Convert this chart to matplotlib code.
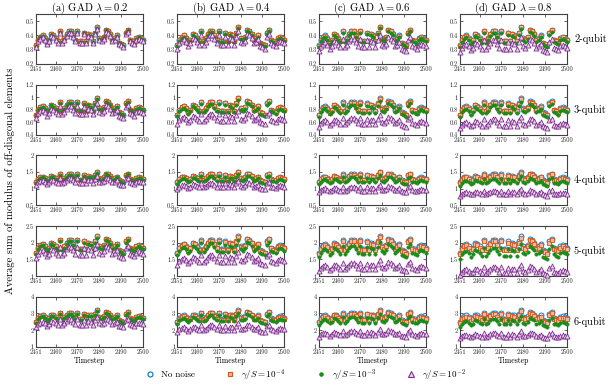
import matplotlib
matplotlib.use("Agg")
import matplotlib.pyplot as plt
from matplotlib.lines import Line2D

plt.rcParams['font.family'] = 'cmr10'
plt.rcParams['mathtext.fontset'] = 'cm'
plt.rcParams['axes.unicode_minus'] = False
plt.rcParams['axes.formatter.use_mathtext'] = True

# ---------------- data ----------------
timesteps = list(range(2451, 2501))
xtick_vals = [2451, 2460, 2470, 2480, 2490, 2500]
xtick_labels = ['2451', '2460', '2470', '2480', '2490', '2500']

col_titles = [r'(a) GAD $\lambda = 0.2$', r'(b) GAD $\lambda = 0.4$',
              r'(c) GAD $\lambda = 0.6$', r'(d) GAD $\lambda = 0.8$']
row_labels = ['2-qubit', '3-qubit', '4-qubit', '5-qubit', '6-qubit']
series_labels = ['No noise', r'$\gamma/S = 10^{-4}$', r'$\gamma/S = 10^{-3}$', r'$\gamma/S = 10^{-2}$']

yticks_2q = [0.2, 0.3, 0.4, 0.5]
yticks_3q = [0.4, 0.6, 0.8, 1.0, 1.2]
yticks_4q = [0.5, 1.0, 1.5, 2.0]
yticks_5q = [1.0, 1.5, 2.0, 2.5]
yticks_6q = [1, 2, 3, 4]
ylabels_2q = ['0.2', '0.3', '0.4', '0.5']
ylabels_3q = ['0.4', '0.6', '0.8', '1', '1.2']
ylabels_4q = ['0.5', '1', '1.5', '2']
ylabels_5q = ['1', '1.5', '2', '2.5']
ylabels_6q = ['1', '2', '3', '4']
ylims_2q = (0.2, 0.55)
ylims_3q = (0.4, 1.2)
ylims_4q = (0.5, 2.0)
ylims_5q = (1.0, 2.5)
ylims_6q = (1.0, 4.0)

# ---- 2-qubit ----
nn_2q = [.33,.37,.39,.40,.38,.35,.37,.41,.40,.38,
         .36,.43,.36,.38,.41,.43,.43,.40,.37,.43,
         .36,.36,.42,.36,.41,.40,.36,.42,.46,.38,
         .37,.39,.44,.43,.41,.37,.38,.40,.35,.34,
         .33,.42,.44,.37,.36,.35,.38,.39,.38,.37]
g4_2q_a = list(nn_2q)
g3_2q_a = [.327,.366,.386,.396,.376,.347,.366,.406,.396,.376,
           .356,.426,.356,.376,.406,.426,.426,.396,.366,.426,
           .356,.356,.416,.356,.406,.396,.356,.416,.455,.376,
           .366,.386,.436,.426,.406,.366,.376,.396,.347,.337,
           .327,.416,.436,.366,.356,.347,.376,.386,.376,.366]
g2_2q_a = [.320,.359,.378,.388,.369,.340,.359,.398,.388,.369,
           .349,.417,.349,.369,.398,.417,.417,.388,.359,.417,
           .349,.349,.407,.349,.398,.388,.349,.407,.446,.369,
           .359,.378,.427,.417,.398,.359,.369,.388,.340,.330,
           .320,.407,.427,.359,.349,.340,.369,.378,.369,.359]
g4_2q_b = list(nn_2q)
g3_2q_b = [.323,.363,.382,.392,.372,.343,.363,.402,.392,.372,
           .353,.421,.353,.372,.402,.421,.421,.392,.363,.421,
           .353,.353,.412,.353,.402,.392,.353,.412,.451,.372,
           .363,.382,.431,.421,.402,.363,.372,.392,.343,.333,
           .323,.412,.431,.363,.353,.343,.372,.382,.372,.363]
g2_2q_b = [.307,.344,.363,.372,.353,.326,.344,.381,.372,.353,
           .335,.400,.335,.353,.381,.400,.400,.372,.344,.400,
           .335,.335,.391,.335,.381,.372,.335,.391,.428,.353,
           .344,.363,.409,.400,.381,.344,.353,.372,.326,.316,
           .307,.391,.409,.344,.335,.326,.353,.363,.353,.344]
g4_2q_c = [.328,.368,.388,.398,.378,.348,.368,.408,.398,.378,
           .358,.428,.358,.378,.408,.428,.428,.398,.368,.428,
           .358,.358,.418,.358,.408,.398,.358,.418,.458,.378,
           .368,.388,.438,.428,.408,.368,.378,.398,.348,.338,
           .328,.418,.438,.368,.358,.348,.378,.388,.378,.368]
g3_2q_c = [.322,.361,.380,.390,.371,.341,.361,.400,.390,.371,
           .351,.419,.351,.371,.400,.419,.419,.390,.361,.419,
           .351,.351,.410,.351,.400,.390,.351,.410,.449,.371,
           .361,.380,.429,.419,.400,.361,.371,.390,.341,.332,
           .322,.410,.429,.361,.351,.341,.371,.380,.371,.361]
g2_2q_c = [.290,.326,.343,.352,.334,.308,.326,.361,.352,.334,
           .317,.378,.317,.334,.361,.378,.378,.352,.326,.378,
           .317,.317,.370,.317,.361,.352,.317,.370,.405,.334,
           .326,.343,.387,.378,.361,.326,.334,.352,.308,.299,
           .290,.370,.387,.326,.317,.308,.334,.343,.334,.326]
g4_2q_d = list(g4_2q_c)
g3_2q_d = [.318,.357,.376,.386,.367,.338,.357,.396,.386,.367,
           .347,.415,.347,.367,.396,.415,.415,.386,.357,.415,
           .347,.347,.405,.347,.396,.386,.347,.405,.444,.367,
           .357,.376,.425,.415,.396,.357,.367,.386,.338,.328,
           .318,.405,.425,.357,.347,.338,.367,.376,.367,.357]
g2_2q_d = [.281,.315,.332,.340,.323,.298,.315,.349,.340,.323,
           .306,.366,.306,.323,.349,.366,.366,.340,.315,.366,
           .306,.306,.357,.306,.349,.340,.306,.357,.391,.323,
           .315,.332,.374,.366,.349,.315,.323,.340,.298,.289,
           .281,.357,.374,.315,.306,.298,.323,.332,.323,.315]

# ---- 3-qubit ----
nn_3q = [.72,.80,.84,.86,.82,.76,.80,.88,.86,.82,
         .78,.92,.78,.82,.88,.92,.92,.86,.80,.92,
         .78,.78,.90,.78,.88,.86,.78,.90,.98,.82,
         .80,.84,.94,.92,.88,.80,.82,.86,.76,.74,
         .72,.90,.94,.80,.78,.76,.82,.84,.82,.80]
g4_3q_a = list(nn_3q)
g3_3q_a = [.713,.792,.832,.851,.812,.752,.792,.871,.851,.812,
           .772,.911,.772,.812,.871,.911,.911,.851,.792,.911,
           .772,.772,.891,.772,.871,.851,.772,.891,.970,.812,
           .792,.832,.931,.911,.871,.792,.812,.851,.752,.733,
           .713,.891,.931,.792,.772,.752,.812,.832,.812,.792]
g2_3q_a = [.670,.744,.781,.800,.763,.707,.744,.818,.800,.763,
           .725,.856,.725,.763,.818,.856,.856,.800,.744,.856,
           .725,.725,.837,.725,.818,.800,.725,.837,.911,.763,
           .744,.781,.874,.856,.818,.744,.763,.800,.707,.688,
           .670,.837,.874,.744,.725,.707,.763,.781,.763,.744]
g4_3q_b = list(nn_3q)
g3_3q_b = [.698,.776,.815,.834,.795,.737,.776,.854,.834,.795,
           .757,.892,.757,.795,.854,.892,.892,.834,.776,.892,
           .757,.757,.873,.757,.854,.834,.757,.873,.951,.795,
           .776,.815,.912,.892,.854,.776,.795,.834,.737,.718,
           .698,.873,.912,.776,.757,.737,.795,.815,.795,.776]
g2_3q_b = [.576,.640,.672,.688,.656,.608,.640,.704,.688,.656,
           .624,.736,.624,.656,.704,.736,.736,.688,.640,.736,
           .624,.624,.720,.624,.704,.688,.624,.720,.784,.656,
           .640,.672,.752,.736,.704,.640,.656,.688,.608,.592,
           .576,.720,.752,.640,.624,.608,.656,.672,.656,.640]
g4_3q_c = list(g3_3q_a)
g3_3q_c = [.691,.768,.806,.826,.787,.730,.768,.845,.826,.787,
           .749,.883,.749,.787,.845,.883,.883,.826,.768,.883,
           .749,.749,.864,.749,.845,.826,.749,.864,.941,.787,
           .768,.806,.902,.883,.845,.768,.787,.826,.730,.710,
           .691,.864,.902,.768,.749,.730,.787,.806,.787,.768]
g2_3q_c = [.526,.584,.613,.628,.599,.555,.584,.642,.628,.599,
           .569,.672,.569,.599,.642,.672,.672,.628,.584,.672,
           .569,.569,.657,.569,.642,.628,.569,.657,.715,.599,
           .584,.613,.686,.672,.642,.584,.599,.628,.555,.540,
           .526,.657,.686,.584,.569,.555,.599,.613,.599,.584]
g4_3q_d = list(g3_3q_a)
g3_3q_d = [.684,.760,.798,.817,.779,.722,.760,.836,.817,.779,
           .741,.874,.741,.779,.836,.874,.874,.817,.760,.874,
           .741,.741,.855,.741,.836,.817,.741,.855,.931,.779,
           .760,.798,.893,.874,.836,.760,.779,.817,.722,.703,
           .684,.855,.893,.760,.741,.722,.779,.798,.779,.760]
g2_3q_d = [.504,.560,.588,.602,.574,.532,.560,.616,.602,.574,
           .546,.644,.546,.574,.616,.644,.644,.602,.560,.644,
           .546,.546,.630,.546,.616,.602,.546,.630,.686,.574,
           .560,.588,.658,.644,.616,.560,.574,.602,.532,.518,
           .504,.630,.658,.560,.546,.532,.574,.588,.574,.560]

# ---- 4-qubit ----
nn_4q = [1.20,1.29,1.34,1.36,1.31,1.25,1.29,1.38,1.36,1.31,
         1.27,1.43,1.27,1.31,1.38,1.43,1.43,1.36,1.29,1.43,
         1.27,1.27,1.41,1.27,1.38,1.36,1.27,1.41,1.50,1.31,
         1.29,1.34,1.45,1.43,1.38,1.29,1.31,1.36,1.25,1.22,
         1.20,1.41,1.45,1.29,1.27,1.25,1.31,1.34,1.31,1.29]
g4_4q_a = list(nn_4q)
g3_4q_a = [1.18,1.27,1.32,1.34,1.29,1.23,1.27,1.36,1.34,1.29,
           1.25,1.41,1.25,1.29,1.36,1.41,1.41,1.34,1.27,1.41,
           1.25,1.25,1.39,1.25,1.36,1.34,1.25,1.39,1.48,1.29,
           1.27,1.32,1.43,1.41,1.36,1.27,1.29,1.34,1.23,1.20,
           1.18,1.39,1.43,1.27,1.25,1.23,1.29,1.32,1.29,1.27]
g2_4q_a = [1.10,1.19,1.23,1.25,1.21,1.15,1.19,1.27,1.25,1.21,
           1.17,1.32,1.17,1.21,1.27,1.32,1.32,1.25,1.19,1.32,
           1.17,1.17,1.30,1.17,1.27,1.25,1.17,1.30,1.38,1.21,
           1.19,1.23,1.33,1.32,1.27,1.19,1.21,1.25,1.15,1.12,
           1.10,1.30,1.33,1.19,1.17,1.15,1.21,1.23,1.21,1.19]
g4_4q_b = list(nn_4q)
g3_4q_b = [1.15,1.24,1.29,1.31,1.26,1.20,1.24,1.32,1.31,1.26,
           1.22,1.37,1.22,1.26,1.32,1.37,1.37,1.31,1.24,1.37,
           1.22,1.22,1.35,1.22,1.32,1.31,1.22,1.35,1.44,1.26,
           1.24,1.29,1.39,1.37,1.32,1.24,1.26,1.31,1.20,1.17,
           1.15,1.35,1.39,1.24,1.22,1.20,1.26,1.29,1.26,1.24]
g2_4q_b = [0.98,1.06,1.10,1.12,1.07,1.03,1.06,1.13,1.12,1.07,
           1.04,1.17,1.04,1.07,1.13,1.17,1.17,1.12,1.06,1.17,
           1.04,1.04,1.16,1.04,1.13,1.12,1.04,1.16,1.23,1.07,
           1.06,1.10,1.19,1.17,1.13,1.06,1.07,1.12,1.03,1.00,
           0.98,1.16,1.19,1.06,1.04,1.03,1.07,1.10,1.07,1.06]
g4_4q_c = [1.19,1.28,1.33,1.35,1.30,1.24,1.28,1.37,1.35,1.30,
           1.26,1.42,1.26,1.30,1.37,1.42,1.42,1.35,1.28,1.42,
           1.26,1.26,1.40,1.26,1.37,1.35,1.26,1.40,1.49,1.30,
           1.28,1.33,1.44,1.42,1.37,1.28,1.30,1.35,1.24,1.21,
           1.19,1.40,1.44,1.28,1.26,1.24,1.30,1.33,1.30,1.28]
g3_4q_c = [1.13,1.21,1.26,1.28,1.23,1.18,1.21,1.30,1.28,1.23,
           1.19,1.34,1.19,1.23,1.30,1.34,1.34,1.28,1.21,1.34,
           1.19,1.19,1.33,1.19,1.30,1.28,1.19,1.33,1.41,1.23,
           1.21,1.26,1.36,1.34,1.30,1.21,1.23,1.28,1.18,1.15,
           1.13,1.33,1.36,1.21,1.19,1.18,1.23,1.26,1.23,1.21]
g2_4q_c = [0.89,0.95,0.99,1.01,0.97,0.93,0.95,1.02,1.01,0.97,
           0.94,1.06,0.94,0.97,1.02,1.06,1.06,1.01,0.95,1.06,
           0.94,0.94,1.04,0.94,1.02,1.01,0.94,1.04,1.11,0.97,
           0.95,0.99,1.07,1.06,1.02,0.95,0.97,1.01,0.93,0.90,
           0.89,1.04,1.07,0.95,0.94,0.93,0.97,0.99,0.97,0.95]
g4_4q_d = list(g3_4q_a)
g3_4q_d = [1.09,1.17,1.22,1.24,1.19,1.14,1.17,1.26,1.24,1.19,
           1.16,1.30,1.16,1.19,1.26,1.30,1.30,1.24,1.17,1.30,
           1.16,1.16,1.28,1.16,1.26,1.24,1.16,1.28,1.37,1.19,
           1.17,1.22,1.32,1.30,1.26,1.17,1.19,1.24,1.14,1.11,
           1.09,1.28,1.32,1.17,1.16,1.14,1.19,1.22,1.19,1.17]
g2_4q_d = [0.79,0.85,0.88,0.90,0.86,0.83,0.85,0.91,0.90,0.86,
           0.84,0.94,0.84,0.86,0.91,0.94,0.94,0.90,0.85,0.94,
           0.84,0.84,0.93,0.84,0.91,0.90,0.84,0.93,0.99,0.86,
           0.85,0.88,0.96,0.94,0.91,0.85,0.86,0.90,0.83,0.81,
           0.79,0.93,0.96,0.85,0.84,0.83,0.86,0.88,0.86,0.85]

# ---- 5-qubit ----
nn_5q = [1.70,1.85,1.93,1.97,1.89,1.78,1.85,2.00,1.97,1.89,
         1.81,2.08,1.81,1.89,2.00,2.08,2.08,1.97,1.85,2.08,
         1.81,1.81,2.04,1.81,2.00,1.97,1.81,2.04,2.19,1.89,
         1.85,1.93,2.12,2.08,2.00,1.85,1.89,1.97,1.78,1.74,
         1.70,2.04,2.12,1.85,1.81,1.78,1.89,1.93,1.89,1.85]
g4_5q_a = list(nn_5q)
g3_5q_a = [1.67,1.81,1.89,1.93,1.85,1.74,1.81,1.96,1.93,1.85,
           1.77,2.04,1.77,1.85,1.96,2.04,2.04,1.93,1.81,2.04,
           1.77,1.77,2.00,1.77,1.96,1.93,1.77,2.00,2.15,1.85,
           1.81,1.89,2.08,2.04,1.96,1.81,1.85,1.93,1.74,1.71,
           1.67,2.00,2.08,1.81,1.77,1.74,1.85,1.89,1.85,1.81]
g2_5q_a = [1.53,1.67,1.74,1.77,1.70,1.60,1.67,1.80,1.77,1.70,
           1.63,1.87,1.63,1.70,1.80,1.87,1.87,1.77,1.67,1.87,
           1.63,1.63,1.84,1.63,1.80,1.77,1.63,1.84,1.97,1.70,
           1.67,1.74,1.91,1.87,1.80,1.67,1.70,1.77,1.60,1.57,
           1.53,1.84,1.91,1.67,1.63,1.60,1.70,1.74,1.70,1.67]
g4_5q_b = [1.68,1.83,1.91,1.95,1.87,1.76,1.83,1.98,1.95,1.87,
           1.79,2.06,1.79,1.87,1.98,2.06,2.06,1.95,1.83,2.06,
           1.79,1.79,2.02,1.79,1.98,1.95,1.79,2.02,2.17,1.87,
           1.83,1.91,2.10,2.06,1.98,1.83,1.87,1.95,1.76,1.72,
           1.68,2.02,2.10,1.83,1.79,1.76,1.87,1.91,1.87,1.83]
g3_5q_b = [1.62,1.76,1.83,1.87,1.80,1.69,1.76,1.90,1.87,1.80,
           1.72,1.98,1.72,1.80,1.90,1.98,1.98,1.87,1.76,1.98,
           1.72,1.72,1.94,1.72,1.90,1.87,1.72,1.94,2.08,1.80,
           1.76,1.83,2.01,1.98,1.90,1.76,1.80,1.87,1.69,1.65,
           1.62,1.94,2.01,1.76,1.72,1.69,1.80,1.83,1.80,1.76]
g2_5q_b = [1.33,1.44,1.51,1.54,1.47,1.39,1.44,1.56,1.54,1.47,
           1.41,1.62,1.41,1.47,1.56,1.62,1.62,1.54,1.44,1.62,
           1.41,1.41,1.59,1.41,1.56,1.54,1.41,1.59,1.71,1.47,
           1.44,1.51,1.65,1.62,1.56,1.44,1.47,1.54,1.39,1.36,
           1.33,1.59,1.65,1.44,1.41,1.39,1.47,1.51,1.47,1.44]
g4_5q_c = [1.67,1.82,1.90,1.94,1.86,1.75,1.82,1.97,1.94,1.86,
           1.78,2.05,1.78,1.86,1.97,2.05,2.05,1.94,1.82,2.05,
           1.78,1.78,2.01,1.78,1.97,1.94,1.78,2.01,2.16,1.86,
           1.82,1.90,2.09,2.05,1.97,1.82,1.86,1.94,1.75,1.71,
           1.67,2.01,2.09,1.82,1.78,1.75,1.86,1.90,1.86,1.82]
g3_5q_c = [1.56,1.70,1.78,1.81,1.74,1.64,1.70,1.84,1.81,1.74,
           1.67,1.91,1.67,1.74,1.84,1.91,1.91,1.81,1.70,1.91,
           1.67,1.67,1.88,1.67,1.84,1.81,1.67,1.88,2.01,1.74,
           1.70,1.78,1.95,1.91,1.84,1.70,1.74,1.81,1.64,1.60,
           1.56,1.88,1.95,1.70,1.67,1.64,1.74,1.78,1.74,1.70]
g2_5q_c = [1.14,1.24,1.29,1.32,1.27,1.19,1.24,1.34,1.32,1.27,
           1.21,1.39,1.21,1.27,1.34,1.39,1.39,1.32,1.24,1.39,
           1.21,1.21,1.37,1.21,1.34,1.32,1.21,1.37,1.47,1.27,
           1.24,1.29,1.42,1.39,1.34,1.24,1.27,1.32,1.19,1.17,
           1.14,1.37,1.42,1.24,1.21,1.19,1.27,1.29,1.27,1.24]
g4_5q_d = list(g3_5q_a)
g3_5q_d = [1.51,1.65,1.72,1.75,1.68,1.58,1.65,1.78,1.75,1.68,
           1.61,1.85,1.61,1.68,1.78,1.85,1.85,1.75,1.65,1.85,
           1.61,1.61,1.82,1.61,1.78,1.75,1.61,1.82,1.95,1.68,
           1.65,1.72,1.89,1.85,1.78,1.65,1.68,1.75,1.58,1.55,
           1.51,1.82,1.89,1.65,1.61,1.58,1.68,1.72,1.68,1.65]
g2_5q_d = [1.04,1.13,1.18,1.20,1.15,1.09,1.13,1.22,1.20,1.15,
           1.10,1.27,1.10,1.15,1.22,1.27,1.27,1.20,1.13,1.27,
           1.10,1.10,1.24,1.10,1.22,1.20,1.10,1.24,1.34,1.15,
           1.13,1.18,1.29,1.27,1.22,1.13,1.15,1.20,1.09,1.06,
           1.04,1.24,1.29,1.13,1.10,1.09,1.15,1.18,1.15,1.13]

# ---- 6-qubit ----
nn_6q = [2.50,2.72,2.82,2.88,2.77,2.61,2.72,2.93,2.88,2.77,
         2.66,3.04,2.66,2.77,2.93,3.04,3.04,2.88,2.72,3.04,
         2.66,2.66,2.99,2.66,2.93,2.88,2.66,2.99,3.20,2.77,
         2.72,2.82,3.09,3.04,2.93,2.72,2.77,2.88,2.61,2.55,
         2.50,2.99,3.09,2.72,2.66,2.61,2.77,2.82,2.77,2.72]
g4_6q_a = list(nn_6q)
g3_6q_a = [2.45,2.67,2.76,2.82,2.71,2.56,2.67,2.87,2.82,2.71,
           2.61,2.98,2.61,2.71,2.87,2.98,2.98,2.82,2.67,2.98,
           2.61,2.61,2.93,2.61,2.87,2.82,2.61,2.93,3.14,2.71,
           2.67,2.76,3.03,2.98,2.87,2.67,2.71,2.82,2.56,2.50,
           2.45,2.93,3.03,2.67,2.61,2.56,2.71,2.76,2.71,2.67]
g2_6q_a = [2.18,2.37,2.45,2.51,2.41,2.27,2.37,2.55,2.51,2.41,
           2.31,2.64,2.31,2.41,2.55,2.64,2.64,2.51,2.37,2.64,
           2.31,2.31,2.60,2.31,2.55,2.51,2.31,2.60,2.78,2.41,
           2.37,2.45,2.69,2.64,2.55,2.37,2.41,2.51,2.27,2.22,
           2.18,2.60,2.69,2.37,2.31,2.27,2.41,2.45,2.41,2.37]
g4_6q_b = [2.48,2.69,2.79,2.85,2.74,2.58,2.69,2.90,2.85,2.74,
           2.63,3.01,2.63,2.74,2.90,3.01,3.01,2.85,2.69,3.01,
           2.63,2.63,2.96,2.63,2.90,2.85,2.63,2.96,3.17,2.74,
           2.69,2.79,3.06,3.01,2.90,2.69,2.74,2.85,2.58,2.52,
           2.48,2.96,3.06,2.69,2.63,2.58,2.74,2.79,2.74,2.69]
g3_6q_b = [2.38,2.58,2.68,2.74,2.63,2.48,2.58,2.78,2.74,2.63,
           2.53,2.89,2.53,2.63,2.78,2.89,2.89,2.74,2.58,2.89,
           2.53,2.53,2.84,2.53,2.78,2.74,2.53,2.84,3.04,2.63,
           2.58,2.68,2.94,2.89,2.78,2.58,2.63,2.74,2.48,2.42,
           2.38,2.84,2.94,2.58,2.53,2.48,2.63,2.68,2.63,2.58]
g2_6q_b = [1.88,2.04,2.12,2.16,2.08,1.96,2.04,2.20,2.16,2.08,
           2.00,2.28,2.00,2.08,2.20,2.28,2.28,2.16,2.04,2.28,
           2.00,2.00,2.24,2.00,2.20,2.16,2.00,2.24,2.40,2.08,
           2.04,2.12,2.32,2.28,2.20,2.04,2.08,2.16,1.96,1.91,
           1.88,2.24,2.32,2.04,2.00,1.96,2.08,2.12,2.08,2.04]
g4_6q_c = [2.46,2.68,2.78,2.84,2.73,2.57,2.68,2.89,2.84,2.73,
           2.62,2.99,2.62,2.73,2.89,2.99,2.99,2.84,2.68,2.99,
           2.62,2.62,2.95,2.62,2.89,2.84,2.62,2.95,3.15,2.73,
           2.68,2.78,3.04,2.99,2.89,2.68,2.73,2.84,2.57,2.51,
           2.46,2.95,3.04,2.68,2.62,2.57,2.73,2.78,2.73,2.68]
g3_6q_c = [2.30,2.50,2.59,2.65,2.55,2.40,2.50,2.70,2.65,2.55,
           2.45,2.80,2.45,2.55,2.70,2.80,2.80,2.65,2.50,2.80,
           2.45,2.45,2.75,2.45,2.70,2.65,2.45,2.75,2.94,2.55,
           2.50,2.59,2.84,2.80,2.70,2.50,2.55,2.65,2.40,2.35,
           2.30,2.75,2.84,2.50,2.45,2.40,2.55,2.59,2.55,2.50]
g2_6q_c = [1.60,1.74,1.80,1.84,1.77,1.67,1.74,1.88,1.84,1.77,
           1.70,1.95,1.70,1.77,1.88,1.95,1.95,1.84,1.74,1.95,
           1.70,1.70,1.91,1.70,1.88,1.84,1.70,1.91,2.05,1.77,
           1.74,1.80,1.98,1.95,1.88,1.74,1.77,1.84,1.67,1.63,
           1.60,1.91,1.98,1.74,1.70,1.67,1.77,1.80,1.77,1.74]
g4_6q_d = [2.44,2.65,2.75,2.81,2.70,2.54,2.65,2.86,2.81,2.70,
           2.59,2.96,2.59,2.70,2.86,2.96,2.96,2.81,2.65,2.96,
           2.59,2.59,2.92,2.59,2.86,2.81,2.59,2.92,3.12,2.70,
           2.65,2.75,3.01,2.96,2.86,2.65,2.70,2.81,2.54,2.49,
           2.44,2.92,3.01,2.65,2.59,2.54,2.70,2.75,2.70,2.65]
g3_6q_d = [2.20,2.39,2.48,2.53,2.44,2.30,2.39,2.58,2.53,2.44,
           2.34,2.68,2.34,2.44,2.58,2.68,2.68,2.53,2.39,2.68,
           2.34,2.34,2.63,2.34,2.58,2.53,2.34,2.63,2.82,2.44,
           2.39,2.48,2.72,2.68,2.58,2.39,2.44,2.53,2.30,2.24,
           2.20,2.63,2.72,2.39,2.34,2.30,2.44,2.48,2.44,2.39]
g2_6q_d = [1.50,1.63,1.69,1.73,1.66,1.57,1.63,1.76,1.73,1.66,
           1.60,1.82,1.60,1.66,1.76,1.82,1.82,1.73,1.63,1.82,
           1.60,1.60,1.79,1.60,1.76,1.73,1.60,1.79,1.92,1.66,
           1.63,1.69,1.85,1.82,1.76,1.63,1.66,1.73,1.57,1.53,
           1.50,1.79,1.85,1.63,1.60,1.57,1.66,1.69,1.66,1.63]

# ---------------- assemble ----------------
row_nn = [nn_2q, nn_3q, nn_4q, nn_5q, nn_6q]
row_noise = [
    [(g4_2q_a, g3_2q_a, g2_2q_a), (g4_2q_b, g3_2q_b, g2_2q_b), (g4_2q_c, g3_2q_c, g2_2q_c), (g4_2q_d, g3_2q_d, g2_2q_d)],
    [(g4_3q_a, g3_3q_a, g2_3q_a), (g4_3q_b, g3_3q_b, g2_3q_b), (g4_3q_c, g3_3q_c, g2_3q_c), (g4_3q_d, g3_3q_d, g2_3q_d)],
    [(g4_4q_a, g3_4q_a, g2_4q_a), (g4_4q_b, g3_4q_b, g2_4q_b), (g4_4q_c, g3_4q_c, g2_4q_c), (g4_4q_d, g3_4q_d, g2_4q_d)],
    [(g4_5q_a, g3_5q_a, g2_5q_a), (g4_5q_b, g3_5q_b, g2_5q_b), (g4_5q_c, g3_5q_c, g2_5q_c), (g4_5q_d, g3_5q_d, g2_5q_d)],
    [(g4_6q_a, g3_6q_a, g2_6q_a), (g4_6q_b, g3_6q_b, g2_6q_b), (g4_6q_c, g3_6q_c, g2_6q_c), (g4_6q_d, g3_6q_d, g2_6q_d)],
]
row_yticks = [yticks_2q, yticks_3q, yticks_4q, yticks_5q, yticks_6q]
row_ylabels = [ylabels_2q, ylabels_3q, ylabels_4q, ylabels_5q, ylabels_6q]
row_ylims = [ylims_2q, ylims_3q, ylims_4q, ylims_5q, ylims_6q]

# marker styles: (marker, size, face, edge, lw)
styles = [
    ('o', 13, '#cfe3f5', '#0072BD', 0.6),
    ('s', 6, '#f4b89a', '#D95319', 0.6),
    ('o', 6, '#1a8c1a', '#1a8c1a', 0.4),
    ('^', 13, '#ead4ef', '#7E2F8E', 0.6),
]

W, H = 614, 385
fig = plt.figure(figsize=(W / 100, H / 100), dpi=100)
left0, colstep, axw = 36, 141.3, 107
top0, rowstep, axh = 14, 70.7, 50

for r in range(5):
    for c in range(4):
        ax = fig.add_axes([(left0 + c * colstep) / W,
                           1 - (top0 + r * rowstep + axh) / H,
                           axw / W, axh / H])
        series = [row_nn[r]] + list(row_noise[r][c])
        for (m, s, fc, ec, lw), ys in zip(styles, series):
            ax.scatter(timesteps, ys, marker=m, s=s, facecolors=fc,
                       edgecolors=ec, linewidths=lw, clip_on=False, zorder=3)
        ax.set_xlim(2451, 2500)
        ax.set_ylim(*row_ylims[r])
        ax.set_xticks(xtick_vals)
        ax.set_xticklabels(xtick_labels)
        ax.set_yticks(row_yticks[r])
        ax.set_yticklabels(row_ylabels[r])
        ax.tick_params(direction='in', length=2, width=0.5, labelsize=4.6,
                       top=True, right=True, pad=1.5, colors='#262626')
        for sp in ax.spines.values():
            sp.set_linewidth(0.8)
            sp.set_color('#404040')
        if r == 0:
            ax.set_title(col_titles[c], fontsize=7.6, pad=2.5)
        if r == 4:
            ax.set_xlabel('Timestep', fontsize=5.6, labelpad=1.5)
    fig.text(574 / W, 1 - (top0 + r * rowstep + axh / 2) / H,
             row_labels[r], fontsize=7.5, va='center', ha='left')

fig.text(10 / W, 1 - (top0 + (4 * rowstep + axh) / 2) / H,
         'Average sum of modulus of off-diagonal elements',
         rotation=90, va='center', ha='center', fontsize=7.6)

handles = [Line2D([], [], linestyle='none', marker=m, markersize=(s ** 0.5),
                  markerfacecolor=('white' if i == 0 else fc), markeredgecolor=ec,
                  markeredgewidth=0.8)
           for i, (m, s, fc, ec, lw) in enumerate(styles)]
fig.legend(handles, series_labels, loc='center left',
           bbox_to_anchor=(145.5 / W, 1 - 375 / H),
           ncol=4, frameon=False, fontsize=6.5, columnspacing=3.4,
           handletextpad=0.72, handlelength=1.0, borderpad=0, borderaxespad=0)

fig.savefig('out.png', dpi=100)
